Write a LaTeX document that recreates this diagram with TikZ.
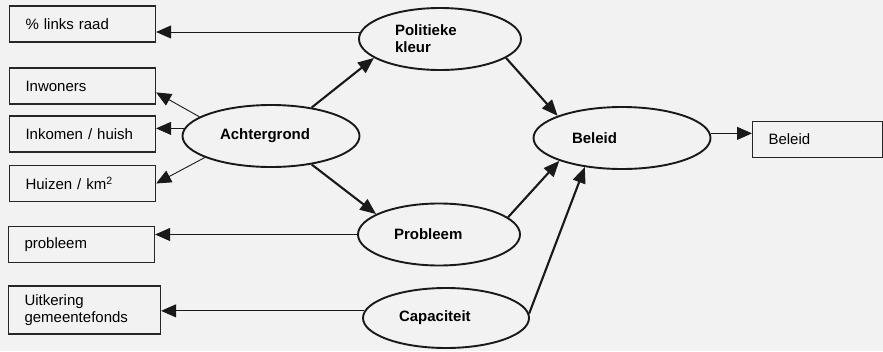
\documentclass[tikz,border=0pt]{standalone}
\usepackage{fontspec}
\setmainfont{Liberation Sans}
\usetikzlibrary{arrows.meta,shapes.geometric}

\begin{document}
\begin{tikzpicture}[x=1pt,y=-1pt,
  latent/.style={ellipse,draw=black!90,line width=1.9pt,minimum width=177pt,minimum height=62pt,inner sep=0pt,align=left,font=\bfseries\fontsize{15}{17}\selectfont},
  measured/.style={rectangle,draw=black!85,line width=1.1pt,minimum height=36pt,inner xsep=16pt,text width=114pt,align=left,anchor=west,font=\fontsize{15}{17}\selectfont},
  edge/.style={draw=black!90,line width=2.1pt,-{Triangle[length=16pt,width=13pt]}},
  loading/.style={draw=black!90,line width=0.9pt,-{Triangle[length=15pt,width=13pt]}}]
\fill[black!5] (0,0) rectangle (883,351);
\useasboundingbox (0,0) rectangle (883,351);

% indicatoren
\node (links)[measured] at (9,24) {\% links raad};
\node (inwoners)[measured] at (9,86) {Inwoners};
\node (inkomen)[measured] at (9,134) {Inkomen / huish};
\node (huizen)[measured] at (9,183.5) {Huizen / km\textsuperscript{2}};
\node (probleem)[measured] at (8,244.5) {probleem};
\node (uitkering)[measured,text width=120pt,minimum height=48pt] at (8,310) {Uitkering\\gemeentefonds};
\node (beleidvar)[measured,text width=98pt] at (752,139.5) {Beleid};

% latente variabelen
\node (achtergrond)[latent,text width=102pt] at (271,136) {Achtergrond};
\node (politiek)[latent,minimum width=162pt,text width=90pt] at (440,39) {Politieke\\kleur};
\node (prob)[latent,minimum width=162pt,text width=90pt] at (439,234.5) {Probleem};
\node (capaciteit)[latent,minimum width=166pt,minimum height=60pt,text width=94pt] at (446,318) {Capaciteit};
\node (beleid)[latent,text width=100pt] at (622,138) {Beleid};

\draw [loading] (politiek.175) -- (politiek.175 -| links.east);
\draw [loading] (achtergrond.165) -- (inwoners.-5);
\draw [loading] (achtergrond.175) -- (achtergrond.175 -| inkomen.east);
\draw [loading] (achtergrond.198) -- (huizen.east);
\draw [loading] (prob.west) -- (prob.west -| probleem.east);
\draw [loading] (capaciteit.175) -- (capaciteit.175 -| uitkering.east);
\draw [loading] (beleid.3) -- (beleid.3 -| beleidvar.west);
\draw [edge] (achtergrond.35) -- (politiek.196);
\draw [edge] (achtergrond.-35) -- (prob.162);
\draw [edge] (politiek.-16) -- (beleid.161);
\draw [edge] (prob.14) -- (beleid.200);
\draw [edge] (capaciteit.3) -- (beleid.218);
\end{tikzpicture}
\end{document}
